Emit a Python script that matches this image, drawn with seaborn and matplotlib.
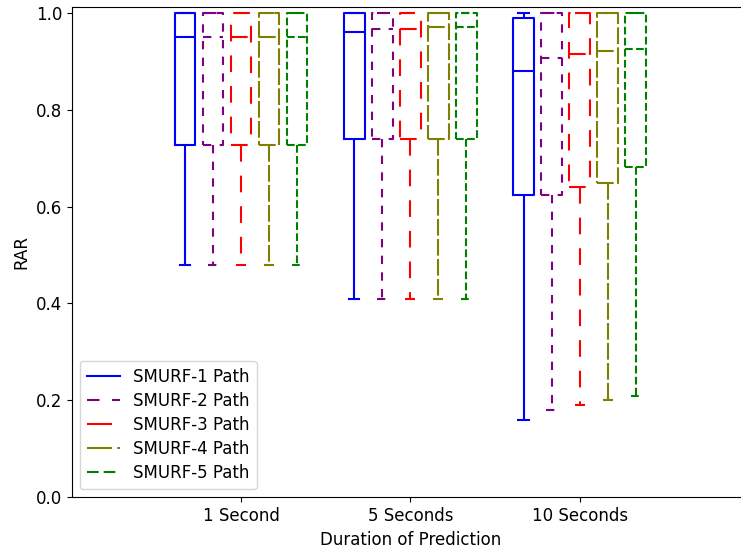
import matplotlib
matplotlib.use("Agg")
import matplotlib.pyplot as plt
from matplotlib.lines import Line2D
import seaborn as sns
import pandas as pd

# ---- data (five-number summaries) ----
durations = ["1 Second", "5 Seconds", "10 Seconds"]
models = ["SMURF-1 Path", "SMURF-2 Path", "SMURF-3 Path", "SMURF-4 Path", "SMURF-5 Path"]

smurf1_min = [0.48, 0.41, 0.16]
smurf1_q1 = [0.728, 0.739, 0.623]
smurf1_med = [0.95, 0.961, 0.880]
smurf1_q3 = [1.0, 1.0, 0.990]
smurf1_max = [1.0, 1.0, 1.0]

smurf2_min = [0.48, 0.41, 0.18]
smurf2_q1 = [0.728, 0.739, 0.623]
smurf2_med = [0.95, 0.966, 0.906]
smurf2_q3 = [1.0, 1.0, 1.0]
smurf2_max = [1.0, 1.0, 1.0]

smurf3_min = [0.48, 0.41, 0.19]
smurf3_q1 = [0.728, 0.739, 0.641]
smurf3_med = [0.95, 0.966, 0.916]
smurf3_q3 = [1.0, 1.0, 1.0]
smurf3_max = [1.0, 1.0, 1.0]

smurf4_min = [0.48, 0.41, 0.20]
smurf4_q1 = [0.728, 0.739, 0.648]
smurf4_med = [0.95, 0.971, 0.921]
smurf4_q3 = [1.0, 1.0, 1.0]
smurf4_max = [1.0, 1.0, 1.0]

smurf5_min = [0.48, 0.41, 0.21]
smurf5_q1 = [0.728, 0.739, 0.681]
smurf5_med = [0.95, 0.971, 0.926]
smurf5_q3 = [1.0, 1.0, 1.0]
smurf5_max = [1.0, 1.0, 1.0]

summaries = {
    "SMURF-1 Path": (smurf1_min, smurf1_q1, smurf1_med, smurf1_q3, smurf1_max),
    "SMURF-2 Path": (smurf2_min, smurf2_q1, smurf2_med, smurf2_q3, smurf2_max),
    "SMURF-3 Path": (smurf3_min, smurf3_q1, smurf3_med, smurf3_q3, smurf3_max),
    "SMURF-4 Path": (smurf4_min, smurf4_q1, smurf4_med, smurf4_q3, smurf4_max),
    "SMURF-5 Path": (smurf5_min, smurf5_q1, smurf5_med, smurf5_q3, smurf5_max),
}

colors = ["blue", "purple", "red", "olive", "green"]

rows = []
for m in models:
    stats = summaries[m]
    for i, d in enumerate(durations):
        for s in stats:
            rows.append({"Duration": d, "Model": m, "RAR": s[i]})
df = pd.DataFrame(rows)

# ---- styles ----
box_styles = ["-", (0, (4, 4)), (0, (8, 6.7)), (0, (8, 1.6)), (0, (3.7, 1.6))]
legend_styles = ["-", (0, (6, 6)), (0, (12, 10)), (0, (12, 2.5, 1.5, 2.5)), (0, (5.6, 2.4))]

plt.rcParams["font.size"] = 12
fig = plt.figure(figsize=(7.41, 5.51), dpi=100)
ax = fig.add_axes([0.0968, 0.0975, 0.9139, 0.8889])

sns.boxplot(data=df, x="Duration", y="RAR", hue="Model", order=durations,
            hue_order=models, palette=colors, fill=False, width=0.8275, gap=0.27,
            linewidth=1.5, whis=(0, 100), showfliers=False, legend=False, ax=ax)

for cont, ls in zip(ax.containers, box_styles):
    for group in ("boxes", "medians", "whiskers", "caps"):
        for art in getattr(cont, group, []):
            art.set_linestyle(ls)

ax.set_xlim(-1, 3)
ax.set_ylim(0, 1.011)
ax.set_yticks([0.0, 0.2, 0.4, 0.6, 0.8, 1.0])
ax.set_xlabel("Duration of Prediction")
ax.set_ylabel("RAR")

handles = [Line2D([0], [0], color=c, lw=1.5, linestyle=ls)
           for c, ls in zip(colors, legend_styles)]
ax.legend(handles, models, loc="lower left", labelspacing=0.37)

fig.savefig("out.png", dpi=100)
